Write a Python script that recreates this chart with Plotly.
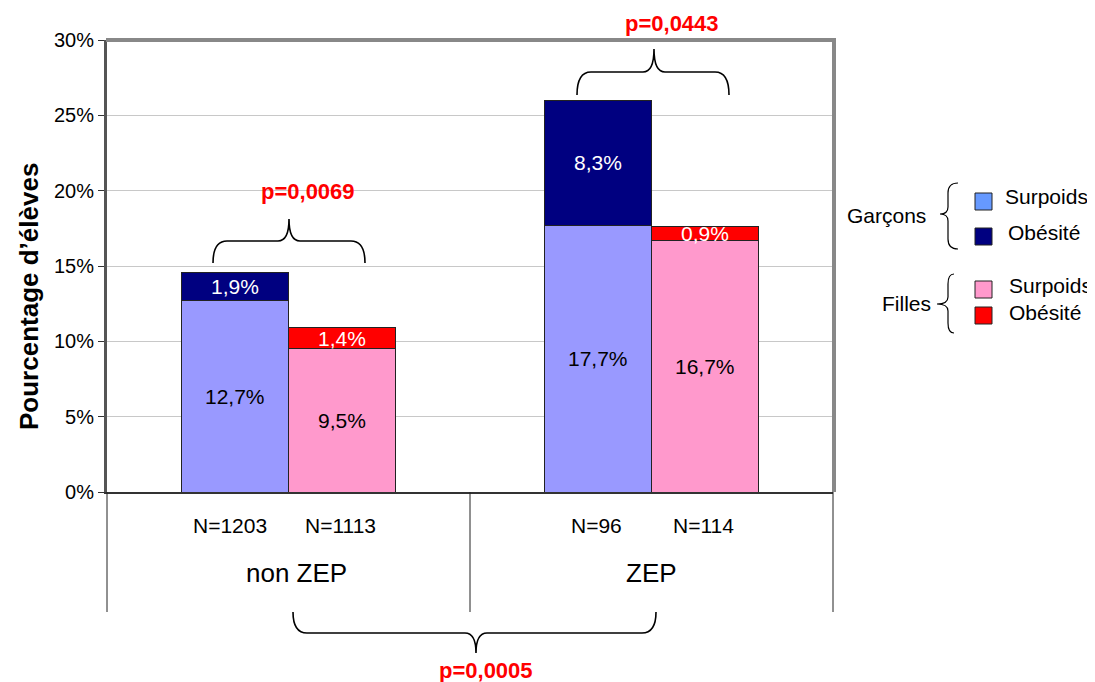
import plotly.graph_objects as go

# ---------------- data ----------------
groups = ["non ZEP", "ZEP"]
n_garcons = ["N=1203", "N=96"]
n_filles = ["N=1113", "N=114"]
garcons_surpoids = [12.7, 17.7]
garcons_obesite = [1.9, 8.3]
filles_surpoids = [9.5, 16.7]
filles_obesite = [1.4, 0.9]
p_sexe = ["p=0,0069", "p=0,0443"]
p_zone = "p=0,0005"
y_ticks = [0, 5, 10, 15, 20, 25, 30]

C_GS = "#9999FF"
C_GO = "#000080"
C_FS = "#FF99CC"
C_FO = "#FF0000"
C_LEG_GS = "#6699FF"

FONT = "Arial, Liberation Sans, sans-serif"

# plot area in page pixels
L, R, T, B = 107, 833, 40, 492
W, H = 1095, 682
PAGE_OFF = 8  # default body margin of the html page


def xp(px):
    return (px - L) / (R - L)


def yp(py):
    return (B - py) / (B - T)


def fmt(v):
    return f"{v:.1f}".replace(".", ",") + "%"


gx = [i + 0.5 for i in range(len(groups))]
off = 0.147
bw = 0.295
xg = [g - off for g in gx]
xf = [g + off for g in gx]

fig = go.Figure()
line = dict(color="#222222", width=1)
fig.add_trace(go.Bar(x=xg, y=garcons_surpoids, width=bw, marker=dict(color=C_GS, line=line), hoverinfo="skip"))
fig.add_trace(go.Bar(x=xg, y=garcons_obesite, width=bw, marker=dict(color=C_GO, line=line), hoverinfo="skip"))
fig.add_trace(go.Bar(x=xf, y=filles_surpoids, width=bw, marker=dict(color=C_FS, line=line), hoverinfo="skip"))
fig.add_trace(go.Bar(x=xf, y=filles_obesite, width=bw, marker=dict(color=C_FO, line=line), hoverinfo="skip"))

ann = []
LBL = 21
for i in range(len(groups)):
    ann.append(dict(x=xg[i], y=garcons_surpoids[i] / 2, text=fmt(garcons_surpoids[i]),
                    font=dict(color="black", size=LBL, family=FONT)))
    ann.append(dict(x=xg[i], y=garcons_surpoids[i] + garcons_obesite[i] / 2, text=fmt(garcons_obesite[i]),
                    font=dict(color="white", size=LBL, family=FONT)))
    ann.append(dict(x=xf[i], y=filles_surpoids[i] / 2, text=fmt(filles_surpoids[i]),
                    font=dict(color="black", size=LBL, family=FONT)))
    ann.append(dict(x=xf[i], y=filles_surpoids[i] + filles_obesite[i] / 2, text=fmt(filles_obesite[i]),
                    font=dict(color="white", size=LBL, family=FONT)))
for a in ann:
    a.update(xref="x", yref="y")

shapes = []


def path_from(points_cmds):
    s = ""
    for cmd, pts in points_cmds:
        s += cmd + " " + " ".join(f"{xp(x):.5f},{yp(y):.5f}" for x, y in pts) + " "
    return s.strip()


def hbrace(x0, x1, yb, ym, yt, xc, r=14, rt=11):
    cmds = [("M", [(x0, yb)]), ("Q", [(x0, ym), (x0 + r, ym)]), ("L", [(xc - rt, ym)]),
            ("Q", [(xc, ym), (xc, yt)]), ("Q", [(xc, ym), (xc + rt, ym)]), ("L", [(x1 - r, ym)]),
            ("Q", [(x1, ym), (x1, yb)])]
    return dict(type="path", xref="paper", yref="paper", path=path_from(cmds),
                line=dict(color="black", width=1.6))


def vbrace(xe, xm, xt, y0, y1, yc, r=10, rt=7):
    cmds = [("M", [(xe, y0)]), ("Q", [(xm, y0), (xm, y0 + r)]), ("L", [(xm, yc - rt)]),
            ("Q", [(xm, yc), (xt, yc)]), ("Q", [(xm, yc), (xm, yc + rt)]), ("L", [(xm, y1 - r)]),
            ("Q", [(xm, y1), (xe, y1)])]
    return dict(type="path", xref="paper", yref="paper", path=path_from(cmds),
                line=dict(color="black", width=1.2))


shapes.append(hbrace(213, 365, 263, 241, 219, 289))
shapes.append(hbrace(577, 729, 95, 72, 49, 654))
shapes.append(hbrace(293, 656, 612, 633, 653, 476))
shapes.append(vbrace(958, 948, 940, 183, 249, 214))
shapes.append(vbrace(954, 948, 937, 274, 333, 304))

# top and right frame
shapes.append(dict(type="line", xref="paper", yref="paper", x0=xp(L - 1), x1=xp(R + 3), y0=yp(T), y1=yp(T),
                   line=dict(color="#888888", width=4)))
shapes.append(dict(type="line", xref="paper", yref="paper", x0=xp(R + 1), x1=xp(R + 1), y0=yp(B), y1=yp(T - 2),
                   line=dict(color="#888888", width=4)))
# category table lines
for px in (L, (L + R) / 2, R):
    shapes.append(dict(type="line", xref="paper", yref="paper", x0=xp(px), x1=xp(px), y0=yp(B), y1=yp(612),
                       line=dict(color="#222222", width=1)))

group_label_shift = [0.023, 0.0]
n_shift = [-0.015, -0.005]
for i, g in enumerate(groups):
    ann.append(dict(x=xg[i] + n_shift[i], y=yp(525), xref="x", yref="paper", text=n_garcons[i],
                    font=dict(size=21, family=FONT, color="black")))
    ann.append(dict(x=xf[i] - 0.005, y=yp(525), xref="x", yref="paper", text=n_filles[i],
                    font=dict(size=21, family=FONT, color="black")))
    ann.append(dict(x=gx[i] + group_label_shift[i], y=yp(573), xref="x", yref="paper", text=g,
                    font=dict(size=26, family=FONT, color="black")))

red = dict(color="#FF0000", size=22, family=FONT)
ann.append(dict(x=xp(308), y=yp(192), xref="paper", yref="paper", text="<b>" + p_sexe[0] + "</b>", font=red))
ann.append(dict(x=xp(672), y=yp(23), xref="paper", yref="paper", text="<b>" + p_sexe[1] + "</b>", font=red))
ann.append(dict(x=xp(486), y=yp(670), xref="paper", yref="paper", text="<b>" + p_zone + "</b>", font=red))

ann.append(dict(x=xp(29), y=yp(297), xref="paper", yref="paper", text="<b>Pourcentage d’élèves</b>",
                textangle=-90, font=dict(size=26, family=FONT, color="black")))

leg_font = dict(size=21, family=FONT, color="black")
ann.append(dict(x=xp(928), y=yp(215), xref="paper", yref="paper", text="Garçons", xanchor="right",
                font=leg_font))
ann.append(dict(x=xp(933), y=yp(303), xref="paper", yref="paper", text="Filles", xanchor="right",
                font=leg_font))
legend_items = [(C_LEG_GS, "Surpoids", 193, 1003, 196),
                (C_GO, "Obésité", 228, 1006, 232),
                (C_FS, "Surpoids", 281, 1007, 285),
                (C_FO, "Obésité", 307, 1007, 312)]
for col, lab, sy, tx, ty in legend_items:
    shapes.append(dict(type="rect", xref="paper", yref="paper", x0=xp(975), x1=xp(992), y0=yp(sy), y1=yp(sy + 17),
                       fillcolor=col, line=dict(color="#222222", width=1)))
    ann.append(dict(x=xp(tx), y=yp(ty), xref="paper", yref="paper", text=lab, xanchor="left", font=leg_font))

for a in ann:
    a.setdefault("xanchor", "center")
    a.setdefault("yanchor", "middle")
    a["showarrow"] = False

FW, FH = W - PAGE_OFF, H - PAGE_OFF
fig.update_layout(
    width=FW, height=FH,
    margin=dict(l=L - PAGE_OFF, r=W - R, t=T - PAGE_OFF, b=H - B, pad=0),
    barmode="stack",
    showlegend=False,
    plot_bgcolor="white",
    paper_bgcolor="white",
    annotations=ann,
    shapes=shapes,
    xaxis=dict(range=[0, len(groups)], showticklabels=False, showgrid=False, zeroline=False,
               showline=True, linecolor="#333333", linewidth=2, ticks=""),
    yaxis=dict(range=[0, 30], tickvals=y_ticks, ticktext=[f"{v}%" for v in y_ticks],
               showgrid=True, gridcolor="#C8C8C8", gridwidth=1, zeroline=False,
               showline=True, linecolor="#555555", linewidth=3, ticks="outside", ticklen=6,
               tickcolor="#333333", tickfont=dict(size=20, family=FONT, color="black")),
)

fig.write_html("out.html")
